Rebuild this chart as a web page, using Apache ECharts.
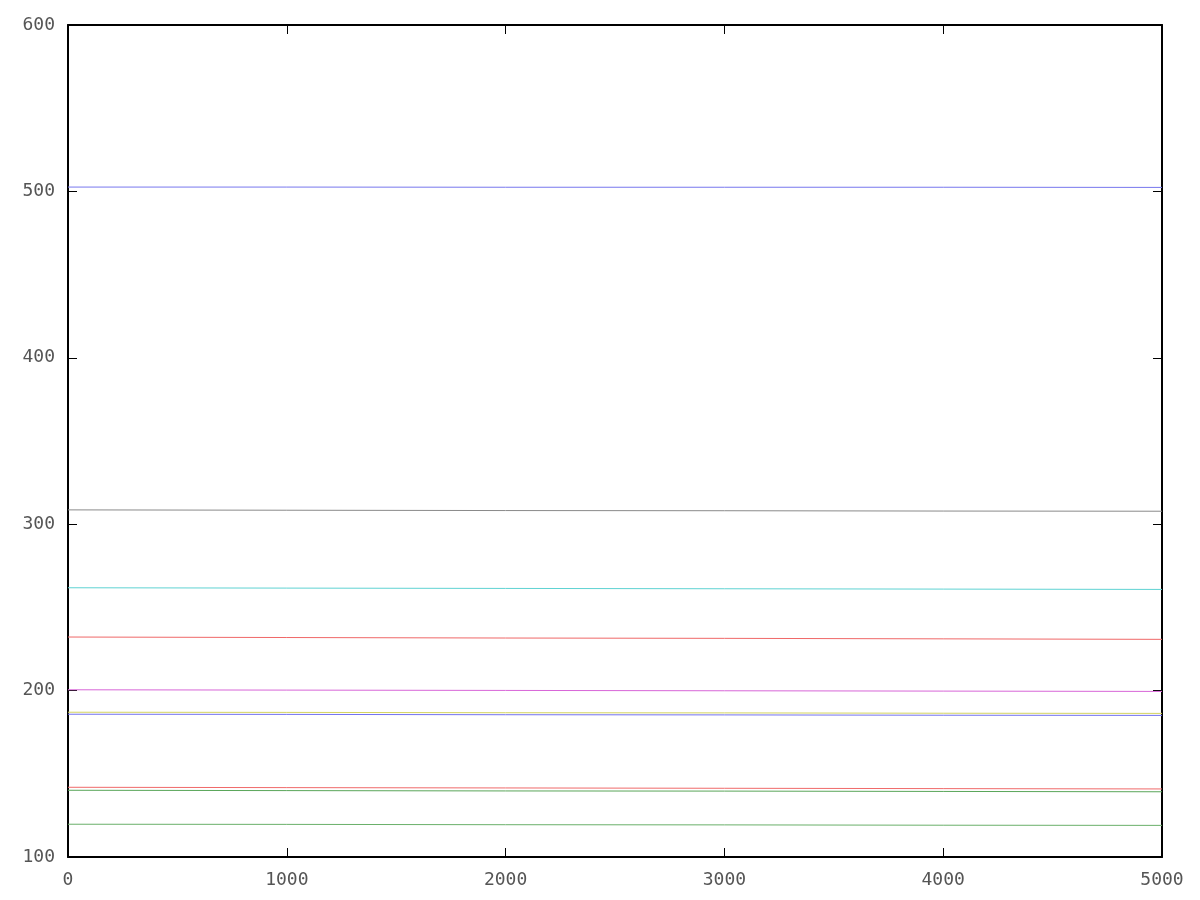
<!DOCTYPE html>
<html>
<head>
<meta charset="utf-8">
<title>chart</title>
<script src="https://cdn.jsdelivr.net/npm/echarts@6/dist/echarts.min.js"></script>
<style>
  html, body { margin: 0; padding: 0; background: #fff; }
  #main { width: 1200px; height: 900px; }
</style>
</head>
<body>
<div id="main"></div>
<script>
  var xSteps = [0, 1000, 2000, 3000, 4000, 5000]

  // one list per line, top to bottom
  var lineA = [502.6, 502.6, 502.5, 502.5, 502.5, 502.4]
  var lineB = [308.6, 308.4, 308.2, 308.1, 307.9, 307.8]
  var lineC = [261.8, 261.6, 261.4, 261.2, 261.0, 260.8]
  var lineD = [232.2, 231.9, 231.6, 231.4, 231.1, 230.8]
  var lineE = [200.5, 200.3, 200.1, 199.9, 199.7, 199.5]
  var lineF = [187.0, 186.9, 186.7, 186.6, 186.4, 186.3]
  var lineG = [185.8, 185.7, 185.5, 185.4, 185.2, 185.1]
  var lineH = [141.9, 141.7, 141.5, 141.3, 141.1, 140.9]
  var lineI = [140.1, 139.9, 139.7, 139.6, 139.4, 139.2]
  var lineJ = [119.7, 119.6, 119.4, 119.3, 119.1, 119.0]

  var xTicks = [0, 1000, 2000, 3000, 4000, 5000]
  var yTicks = [100, 200, 300, 400, 500, 600]

  var lines = [
    { data: lineA, color: '#7777ee' },
    { data: lineB, color: '#8a8a8a' },
    { data: lineC, color: '#5fd3d3' },
    { data: lineD, color: '#f06868' },
    { data: lineE, color: '#d866d8' },
    { data: lineF, color: '#d4d460' },
    { data: lineG, color: '#7272f0' },
    { data: lineH, color: '#f06a6a' },
    { data: lineI, color: '#5aa65a' },
    { data: lineJ, color: '#6ab06a' }
  ]

  var labelFont = {
    color: '#555',
    fontFamily: 'DejaVu Sans Mono',
    fontSize: 18,
    formatter: function (v) { return String(v) }
  }

  function pair (vals) {
    return vals.map(function (v, i) { return [xSteps[i], v] })
  }

  var chart = echarts.init(document.getElementById('main'))
  chart.setOption({
    animation: false,
    backgroundColor: '#fff',
    grid: { left: 68, right: 38, top: 25, bottom: 43 },
    xAxis: [{
      type: 'value',
      min: xTicks[0],
      max: xTicks[xTicks.length - 1],
      interval: 1000,
      position: 'bottom',
      axisLine: { show: true, lineStyle: { color: '#000', width: 2 } },
      axisTick: { show: true, inside: true, length: 9, lineStyle: { color: '#000' } },
      axisLabel: Object.assign({ margin: 14 }, labelFont),
      splitLine: { show: false }
    }, {
      type: 'value',
      min: xTicks[0],
      max: xTicks[xTicks.length - 1],
      interval: 1000,
      position: 'top',
      axisLine: { show: true, onZero: false, lineStyle: { color: '#000', width: 2 } },
      axisTick: { show: true, inside: true, length: 9, lineStyle: { color: '#000' } },
      axisLabel: { show: false },
      splitLine: { show: false }
    }],
    yAxis: [{
      type: 'value',
      min: yTicks[0],
      max: yTicks[yTicks.length - 1],
      interval: 100,
      position: 'left',
      axisLine: { show: true, lineStyle: { color: '#000', width: 2 } },
      axisTick: { show: true, inside: true, length: 9, lineStyle: { color: '#000' } },
      axisLabel: Object.assign({ margin: 13 }, labelFont),
      splitLine: { show: false }
    }, {
      type: 'value',
      min: yTicks[0],
      max: yTicks[yTicks.length - 1],
      interval: 100,
      position: 'right',
      axisLine: { show: true, onZero: false, lineStyle: { color: '#000', width: 2 } },
      axisTick: { show: true, inside: true, length: 9, lineStyle: { color: '#000' } },
      axisLabel: { show: false },
      splitLine: { show: false }
    }],
    series: lines.map(function (l) {
      return {
        type: 'line',
        data: pair(l.data),
        showSymbol: false,
        lineStyle: { color: l.color, width: 1 },
        itemStyle: { color: l.color }
      }
    })
  })
</script>
</body>
</html>
